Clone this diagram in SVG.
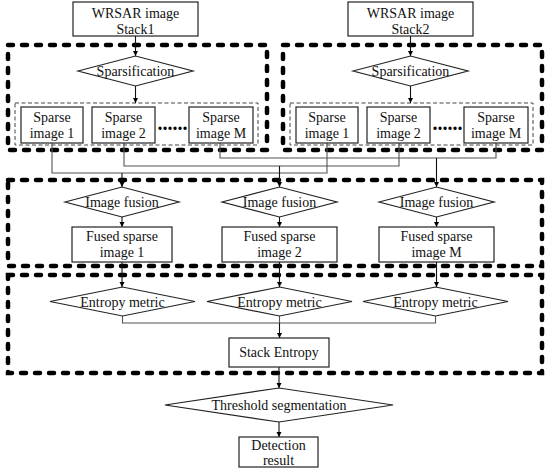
<svg xmlns="http://www.w3.org/2000/svg" width="550" height="472" viewBox="0 0 550 472">
<style>
.bx{fill:#fff;stroke:#222;stroke-width:1.2}
.dm{fill:#fff;stroke:#222;stroke-width:1.2}
.thick{fill:none;stroke:#000;stroke-width:4.5;stroke-dasharray:5 9;stroke-linecap:round}
.thin{fill:none;stroke:#444;stroke-width:1;stroke-dasharray:4 2.5}
.t{font-family:"Liberation Serif","Times New Roman",serif;font-size:14px;fill:#111;text-anchor:middle}
.dots{font-family:"Liberation Serif","Times New Roman",serif;font-size:20px;font-weight:bold;fill:#000}
.ln{fill:none;stroke:#555;stroke-width:1.1}
.ar{fill:none;stroke:#111;stroke-width:1.1;marker-end:url(#ah)}
</style>
<defs>
<marker id="ah" viewBox="0 0 10 10" refX="10" refY="5" markerWidth="5" markerHeight="6" markerUnits="userSpaceOnUse" orient="auto">
<path d="M0,0 L10,5 L0,10 z" fill="#000"/>
</marker>
</defs>
<rect width="550" height="472" fill="#fff"/>
<g id="groups">
<rect class="thick" x="8" y="45" width="259" height="105"/>
<rect class="thick" x="283" y="45" width="259" height="105"/>
<rect class="thick" x="8" y="180" width="534" height="86"/>
<rect class="thick" x="8" y="275" width="534" height="98"/>
<rect class="thin" x="15" y="103" width="243" height="42"/>
<rect class="thin" x="290" y="103" width="243" height="42"/>
</g>
<g id="connectors">
<line class="ar" x1="135.5" y1="36" x2="135.5" y2="56"/>
<line class="ar" x1="135.5" y1="86" x2="135.5" y2="103"/>
<line class="ar" x1="410.5" y1="36" x2="410.5" y2="56"/>
<line class="ar" x1="410.5" y1="86" x2="410.5" y2="103"/>
<path class="ln" d="M52,143 V173 H327 V143"/>
<path class="ln" d="M124,143 V166 H399 V143"/>
<path class="ln" d="M220,143 V158 H496 V143"/>
<line class="ar" x1="122" y1="173" x2="122" y2="187"/>
<line class="ar" x1="279.5" y1="166" x2="279.5" y2="187"/>
<line class="ar" x1="436.5" y1="158" x2="436.5" y2="187"/>
<line class="ar" x1="122" y1="217" x2="122" y2="227"/>
<line class="ar" x1="279.5" y1="217" x2="279.5" y2="227"/>
<line class="ar" x1="436.5" y1="217" x2="436.5" y2="227"/>
<line class="ar" x1="122" y1="262" x2="122" y2="287"/>
<line class="ar" x1="279.5" y1="262" x2="279.5" y2="287"/>
<line class="ar" x1="436.5" y1="262" x2="436.5" y2="287"/>
<path class="ln" d="M122.5,316 V323 H435.5 V316"/>
<line class="ln" x1="279.5" y1="316" x2="279.5" y2="323"/>
<line class="ar" x1="279.5" y1="323" x2="279.5" y2="338"/>
<line class="ar" x1="279" y1="367" x2="279" y2="388"/>
<line class="ar" x1="279" y1="422" x2="279" y2="437"/>
</g>
<g id="stack1">
<rect class="bx" x="73" y="2" width="125" height="34"/>
<text class="t" x="135.5" y="18">WRSAR image</text>
<text class="t" x="135.5" y="34">Stack1</text>
</g>
<g id="stack2">
<rect class="bx" x="348" y="2" width="125" height="34"/>
<text class="t" x="410.5" y="18">WRSAR image</text>
<text class="t" x="410.5" y="34">Stack2</text>
</g>
<g id="sparsification1">
<polygon class="dm" points="78,71 135.5,56 193,71 135.5,86"/>
<text class="t" x="135.5" y="76">Sparsification</text>
</g>
<g id="sparsification2">
<polygon class="dm" points="353,71 410.5,56 468,71 410.5,86"/>
<text class="t" x="410.5" y="76">Sparsification</text>
</g>
<g id="s1sparse1">
<rect class="bx" x="21" y="107" width="62" height="36"/>
<text class="t" x="52" y="122">Sparse</text>
<text class="t" x="52" y="138">image 1</text>
</g>
<g id="s1sparse2">
<rect class="bx" x="92" y="107" width="63" height="36"/>
<text class="t" x="123.5" y="122">Sparse</text>
<text class="t" x="123.5" y="138">image 2</text>
</g>
<text class="dots" x="157.5" y="130">......</text>
<g id="s1sparseM">
<rect class="bx" x="189" y="107" width="64" height="36"/>
<text class="t" x="221" y="122">Sparse</text>
<text class="t" x="221" y="138">image M</text>
</g>
<g id="s2sparse1">
<rect class="bx" x="296" y="107" width="62" height="36"/>
<text class="t" x="327" y="122">Sparse</text>
<text class="t" x="327" y="138">image 1</text>
</g>
<g id="s2sparse2">
<rect class="bx" x="367" y="107" width="63" height="36"/>
<text class="t" x="398.5" y="122">Sparse</text>
<text class="t" x="398.5" y="138">image 2</text>
</g>
<text class="dots" x="432.5" y="130">......</text>
<g id="s2sparseM">
<rect class="bx" x="464" y="107" width="64" height="36"/>
<text class="t" x="496" y="122">Sparse</text>
<text class="t" x="496" y="138">image M</text>
</g>
<g id="fusion1">
<polygon class="dm" points="65,202 122,187 179,202 122,217"/>
<text class="t" x="122" y="207">Image fusion</text>
</g>
<g id="fusion2">
<polygon class="dm" points="222,202 279.5,187 337,202 279.5,217"/>
<text class="t" x="279.5" y="207">Image fusion</text>
</g>
<g id="fusionM">
<polygon class="dm" points="379,202 436.5,187 494,202 436.5,217"/>
<text class="t" x="436.5" y="207">Image fusion</text>
</g>
<g id="fused1">
<rect class="bx" x="72" y="227" width="100" height="35"/>
<text class="t" x="122" y="241">Fused sparse</text>
<text class="t" x="122" y="257">image 1</text>
</g>
<g id="fused2">
<rect class="bx" x="222" y="227" width="115" height="35"/>
<text class="t" x="279.5" y="241">Fused sparse</text>
<text class="t" x="279.5" y="257">image 2</text>
</g>
<g id="fusedM">
<rect class="bx" x="379" y="227" width="115" height="35"/>
<text class="t" x="436.5" y="241">Fused sparse</text>
<text class="t" x="436.5" y="257">image M</text>
</g>
<g id="entropy1">
<polygon class="dm" points="50,301.5 122.5,287 195,301.5 122.5,316"/>
<text class="t" x="122.5" y="306.5">Entropy metric</text>
</g>
<g id="entropy2">
<polygon class="dm" points="207,301.5 279.5,287 352,301.5 279.5,316"/>
<text class="t" x="279.5" y="306.5">Entropy metric</text>
</g>
<g id="entropyM">
<polygon class="dm" points="363,301.5 435.5,287 508,301.5 435.5,316"/>
<text class="t" x="435.5" y="306.5">Entropy metric</text>
</g>
<g id="stackEntropy">
<rect class="bx" x="229" y="338" width="100" height="29"/>
<text class="t" x="279" y="357">Stack Entropy</text>
</g>
<g id="threshold">
<polygon class="dm" points="165,405 279,388 393,405 279,422"/>
<text class="t" x="279" y="410">Threshold segmentation</text>
</g>
<g id="detection">
<rect class="bx" x="239" y="437" width="79" height="30"/>
<text class="t" x="278.5" y="450">Detection</text>
<text class="t" x="278.5" y="465">result</text>
</g>
</svg>
